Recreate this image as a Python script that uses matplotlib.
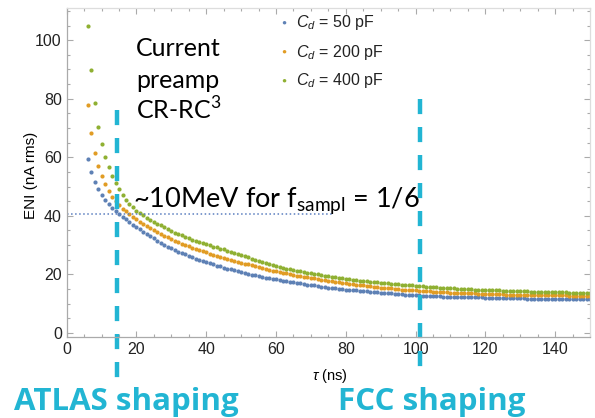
import matplotlib
matplotlib.use("Agg")
import matplotlib.pyplot as plt
import numpy as np

plt.rcParams['font.family'] = 'Liberation Sans'
plt.rcParams['mathtext.fontset'] = 'custom'
plt.rcParams['mathtext.rm'] = 'Lato'
plt.rcParams['mathtext.it'] = 'Liberation Sans:italic'

# shaping time tau (ns), one point per ns
tau = np.arange(6, 151)

eni_50 = [59.5, 55.0, 51.5, 49.0, 47.0, 45.3, 43.9, 42.7, 41.6, 40.6,
          39.7, 38.8, 37.9, 37.0, 36.2,
          35.4, 34.6, 33.8, 33.0, 32.3, 31.5, 30.8,
          30.1, 29.5, 28.9, 28.3, 27.8, 27.3, 26.8, 26.3,
          25.8, 25.4, 25.0, 24.6, 24.2, 23.8, 23.4, 23.0, 22.7, 22.3, 22.0, 21.7,
          21.4, 21.1, 20.8, 20.5, 20.2, 19.9, 19.7, 19.4, 19.2, 18.9, 18.7, 18.5, 18.3,
          18.1, 17.9, 17.7, 17.5, 17.3, 17.1, 16.9, 16.7, 16.5, 16.3,
          16.2, 16.0, 15.8, 15.7, 15.5, 15.4, 15.2, 15.1, 15.0, 14.8,
          14.7, 14.6, 14.5, 14.4, 14.3, 14.2, 14.1, 14.0, 13.9, 13.8,
          13.7, 13.6, 13.5, 13.4, 13.3, 13.2, 13.1, 13.0, 12.9, 12.8,
          12.8, 12.7, 12.7, 12.6, 12.6, 12.5, 12.5, 12.4, 12.4, 12.4,
          12.3, 12.3, 12.3, 12.2, 12.2, 12.2, 12.1, 12.1, 12.1, 12.0,
          12.0, 12.0, 11.9, 11.9, 11.9, 11.9, 11.8, 11.8, 11.8, 11.8,
          11.8, 11.7, 11.7, 11.7, 11.7, 11.7, 11.7, 11.6, 11.6, 11.6,
          11.6, 11.6, 11.6, 11.6, 11.5, 11.5, 11.5, 11.5, 11.5, 11.5]

eni_200 = [77.8, 68.3, 61.6, 57.0, 53.6, 50.8, 48.5, 46.6, 45.0, 43.6,
           42.5, 41.5, 40.5, 39.6, 38.8,
           38.0, 37.2, 36.5, 35.8, 35.1, 34.4, 33.8,
           33.2, 32.6, 32.0, 31.5, 31.0, 30.5, 30.0, 29.6,
           29.1, 28.7, 28.3, 27.9, 27.5, 27.1, 26.7, 26.3, 26.0, 25.6, 25.3, 24.9,
           24.6, 24.3, 24.0, 23.7, 23.4, 23.1, 22.8, 22.5, 22.2, 21.9, 21.6, 21.3, 21.0,
           20.8, 20.5, 20.3, 20.0, 19.8, 19.6, 19.4, 19.2, 19.0, 18.8,
           18.6, 18.4, 18.2, 18.0, 17.8, 17.6, 17.4, 17.3, 17.1, 16.9,
           16.8, 16.6, 16.5, 16.3, 16.2, 16.0, 15.9, 15.8, 15.6, 15.5,
           15.4, 15.3, 15.2, 15.0, 14.9, 14.8, 14.7, 14.6, 14.6, 14.5,
           14.4, 14.3, 14.3, 14.2, 14.1, 14.1, 14.0, 13.9, 13.9, 13.8,
           13.8, 13.7, 13.7, 13.6, 13.6, 13.5, 13.5, 13.4, 13.4, 13.3,
           13.3, 13.3, 13.2, 13.2, 13.2, 13.1, 13.1, 13.1, 13.0, 13.0,
           13.0, 13.0, 12.9, 12.9, 12.9, 12.9, 12.9, 12.8, 12.8, 12.8,
           12.8, 12.8, 12.8, 12.7, 12.7, 12.7, 12.7, 12.7, 12.7, 12.7]

eni_400 = [105.0, 89.8, 78.5, 70.3, 64.5, 60.2, 56.6, 53.7, 51.2, 49.0,
           47.1, 45.5, 44.1, 42.9, 41.8,
           41.0, 40.2, 39.4, 38.7, 38.0, 37.3, 36.7,
           36.1, 35.5, 34.9, 34.3, 33.8, 33.3, 32.8, 32.3,
           31.9, 31.5, 31.1, 30.7, 30.3, 29.9, 29.5, 29.2, 28.8, 28.5, 28.1, 27.8,
           27.4, 27.0, 26.6, 26.2, 25.8, 25.4, 25.0, 24.6, 24.2, 23.9, 23.5, 23.2, 22.9,
           22.6, 22.3, 22.0, 21.8, 21.5, 21.3, 21.0, 20.8, 20.6, 20.4,
           20.2, 20.0, 19.8, 19.6, 19.4, 19.2, 19.0, 18.9, 18.7, 18.5,
           18.4, 18.2, 18.1, 17.9, 17.8, 17.7, 17.5, 17.4, 17.3, 17.2,
           17.0, 16.9, 16.8, 16.7, 16.6, 16.5, 16.4, 16.3, 16.2, 16.1,
           16.0, 15.9, 15.8, 15.7, 15.6, 15.6, 15.5, 15.4, 15.3, 15.3,
           15.2, 15.1, 15.1, 15.0, 14.9, 14.9, 14.8, 14.8, 14.7, 14.7,
           14.6, 14.6, 14.5, 14.5, 14.4, 14.4, 14.4, 14.3, 14.3, 14.2,
           14.2, 14.2, 14.1, 14.1, 14.1, 14.0, 14.0, 14.0, 14.0, 13.9,
           13.9, 13.9, 13.9, 13.8, 13.8, 13.8, 13.8, 13.8, 13.7, 13.7]

labels = [r"$C_d$ = 50 pF", r"$C_d$ = 200 pF", r"$C_d$ = 400 pF"]
colors = ['#5e81b5', '#e19c24', '#8fb032']

threshold = 40.6      # ~10 MeV level
atlas_tau = 14.5
fcc_tau = 101.3
cyan = '#22b5d3'

W, H = 595, 418
fig = plt.figure(figsize=(W / 100, H / 100), dpi=100)
ax = fig.add_axes([66.7 / W, 1 - 337 / H, (590 - 66.7) / W, (337 - 8) / H])

for y, c in zip([eni_50, eni_200, eni_400], colors):
    ax.plot(tau, y, 'o', ms=3.0, mec='none', color=c)

ax.set_xlim(0, 150)
ax.set_ylim(-1.4, 111)
ax.set_xticks([0, 20, 40, 60, 80, 100, 120, 140])
ax.set_yticks([0, 20, 40, 60, 80, 100])
ax.set_xticks(np.arange(0, 151, 5), minor=True)
ax.set_yticks(np.arange(0, 111, 5), minor=True)
ax.tick_params(which='both', direction='in', top=True, right=True,
               color='#aaaaaa', width=0.8, labelsize=11.5, labelcolor='#222222')
ax.tick_params(which='major', length=4)
ax.tick_params(which='minor', length=2)
for s in ax.spines.values():
    s.set_color('#aaaaaa')
    s.set_linewidth(0.9)
for s in ['top', 'right']:
    ax.spines[s].set_color('#dddddd')

ax.set_ylabel("ENI (nA rms)", fontsize=11)
ax.yaxis.set_label_coords(-0.055, 0.49)
ax.set_xlabel(r"$\tau$ (ns)", fontsize=10.5)
ax.xaxis.set_label_coords(0.503, -0.09)

# horizontal threshold line
ax.plot([0, 76], [threshold, threshold], ':', color='#5b7fc0', lw=1.1)

# shaping time markers
ax.plot([atlas_tau, atlas_tau], [76, -15.4], '--', color=cyan, lw=3.2,
        dashes=(3.4, 2.9), clip_on=False)
ax.plot([fcc_tau, fcc_tau], [80, -15.4], '--', color=cyan, lw=3.2,
        dashes=(3.4, 2.9), clip_on=False)

# legend
for i, (lab, c) in enumerate(zip(labels, colors)):
    yy = 1 - (23 + 29 * i) / H
    fig.text(283.3 / W, yy, u"\u25CF", color=c, fontsize=6, ha='center', va='center')
    fig.text(296 / W, yy, lab, fontsize=11.5, color='#222222', va='center')

# annotations
for txt, py in zip(["Current", "preamp", r"CR-RC$^3$"], [48, 80, 110]):
    fig.text(136 / W, 1 - py / H, txt, fontsize=18, family='Lato', va='center')
fig.text(133 / W, 1 - 207 / H, r"~10MeV for f$_{\mathrm{sampl}}$ = 1/6",
         fontsize=19.5, family='Lato', va='baseline')

fig.text(14 / W, 1 - 410 / H, "ATLAS shaping", fontsize=22.5, family='Open Sans',
         weight='bold', color=cyan, va='baseline')
fig.text(338 / W, 1 - 410 / H, "FCC shaping", fontsize=22.5, family='Open Sans',
         weight='bold', color=cyan, va='baseline')

fig.savefig("out.png", dpi=100)
